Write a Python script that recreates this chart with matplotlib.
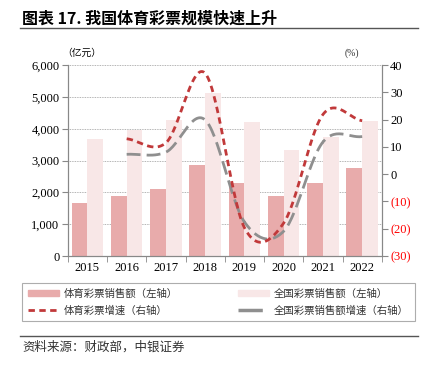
import matplotlib
matplotlib.use("Agg")
import matplotlib.pyplot as plt
import numpy as np
from matplotlib.lines import Line2D
from matplotlib.patches import Patch

plt.rcParams['font.family'] = ['Noto Sans CJK SC', 'DejaVu Sans']

# data (亿元 / %)
years = ['2015', '2016', '2017', '2018', '2019', '2020', '2021', '2022']
tiyu = [1664, 1881, 2097, 2869, 2308, 1895, 2310, 2762]
quanguo = [3679, 3946, 4267, 5115, 4220, 3338, 3733, 4246]
tiyu_zs = [None, 13.0, 11.5, 37.0, -19.6, -17.9, 21.9, 19.6]
quanguo_zs = [None, 7.3, 8.1, 19.9, -17.5, -20.9, 11.8, 13.8]

left_ticks = [0, 1000, 2000, 3000, 4000, 5000, 6000]
right_ticks = [-30, -20, -10, 0, 10, 20, 30, 40]

c_tiyu = '#E8ABAB'
c_qg = '#F8E7E7'
c_red = '#C1393A'
c_gray = '#8F8F8F'
serif = 'Liberation Serif'


def glatko(x, y, n=30):
    # catmull-rom, kao "smoothed line" u excelu
    x = np.asarray(x, float)
    y = np.asarray(y, float)
    px = np.concatenate([[2 * x[0] - x[1]], x, [2 * x[-1] - x[-2]]])
    py = np.concatenate([[2 * y[0] - y[1]], y, [2 * y[-1] - y[-2]]])
    xs, ys = [], []
    for i in range(1, len(px) - 2):
        t = np.linspace(0, 1, n)
        for arr, out in ((px, xs), (py, ys)):
            p0, p1, p2, p3 = arr[i - 1], arr[i], arr[i + 1], arr[i + 2]
            out.extend(0.5 * ((2 * p1) + (-p0 + p2) * t + (2 * p0 - 5 * p1 + 4 * p2 - p3) * t ** 2
                              + (-p0 + 3 * p1 - 3 * p2 + p3) * t ** 3))
    return np.array(xs), np.array(ys)


fig = plt.figure(figsize=(4.29, 3.70), dpi=100)
ax = fig.add_axes([0.158, 0.308, 0.732, 0.516])
ax2 = ax.twinx()

x = np.arange(len(years))
w = 0.4
ax.bar(x - w / 2, tiyu, w, color=c_tiyu, zorder=2)
ax.bar(x + w / 2, quanguo, w, color=c_qg, zorder=2)
ax.set_xlim(-0.5, len(years) - 0.5)
ax.set_ylim(0, 6000)
ax.set_yticks(left_ticks)
ax.set_yticklabels([f'{v:,}' for v in left_ticks], fontfamily=serif, fontsize=9)
ax.yaxis.grid(True, color='#9A9A9A', linestyle=(0, (1, 1)), linewidth=0.6, zorder=0)
ax.set_axisbelow(True)

ax.set_xticks(x)
ax.set_xticklabels(years, fontfamily=serif, fontsize=9)
ax.set_xticks(np.arange(len(years) + 1) - 0.5, minor=True)
ax.tick_params(axis='x', which='major', length=0, pad=4)
ax.tick_params(axis='x', which='minor', length=4, color='#888888', direction='out')
ax.tick_params(axis='y', length=4, color='#888888', pad=2)

xi = [i for i in x if tiyu_zs[i] is not None]
sx, sy = glatko(xi, [tiyu_zs[i] for i in xi])
ax2.plot(sx, sy, color=c_red, lw=2.0, dashes=(2.3, 1.6), zorder=4)
gx, gy = glatko(xi, [quanguo_zs[i] for i in xi])
ax2.plot(gx, gy, color=c_gray, lw=2.0, dashes=(5, 2.2), zorder=3)
ax2.set_ylim(-30, 40)
ax2.set_yticks(right_ticks)
ax2.set_yticklabels([f'({-v})' if v < 0 else str(v) for v in right_ticks], fontfamily=serif, fontsize=9)
for lab, v in zip(ax2.get_yticklabels(), right_ticks):
    if v < 0:
        lab.set_color('red')
ax2.tick_params(axis='y', length=4, color='#888888', pad=2)

for a in (ax, ax2):
    a.spines['top'].set_visible(False)
    for s in ('left', 'right', 'bottom'):
        a.spines[s].set_color('#888888')
        a.spines[s].set_linewidth(0.8)

fig.text(0.145, 0.850, '（亿元）', fontsize=7)
fig.text(0.803, 0.850, '(%)', fontsize=7, fontfamily=serif, color='#333333')

# naslov
fig.text(0.052, 0.937, '图表 17. 我国体育彩票规模快速上升', fontsize=11.5, fontweight='bold')
fig.add_artist(Line2D([0.047, 0.975], [0.925, 0.925], color='#555555', lw=1))

handles = [Patch(color=c_tiyu), Patch(color=c_qg),
           Line2D([], [], color=c_red, lw=2.0, dashes=(2.3, 1.6)),
           Line2D([], [], color=c_gray, lw=2.5, dashes=(7, 2, 0.5, 2))]
labels = ['体育彩票销售额（左轴）', '全国彩票销售额（左轴）', '体育彩票增速（右轴）', '全国彩票销售额增速（右轴）']
lg = fig.legend([handles[0], handles[2], handles[1], handles[3]],
                [labels[0], labels[2], labels[1], labels[3]],
                loc='center', bbox_to_anchor=(0.051, 0.132, 0.916, 0.103), mode='expand',
                ncol=2, fontsize=7.5, frameon=True, fancybox=False, edgecolor='#999999',
                handlelength=3.0, handleheight=0.5, handletextpad=0.5, columnspacing=2.0,
                borderpad=0.55, labelspacing=0.6, borderaxespad=0)
lg.get_frame().set_linewidth(0.8)
for t in lg.get_texts():
    t.set_color('#333333')

fig.add_artist(Line2D([0.047, 0.975], [0.093, 0.093], color='#555555', lw=1))
fig.text(0.052, 0.052, '资料来源：财政部，中银证券', fontsize=9, style='italic', color='#333333')

fig.savefig('out.png', dpi=100)
